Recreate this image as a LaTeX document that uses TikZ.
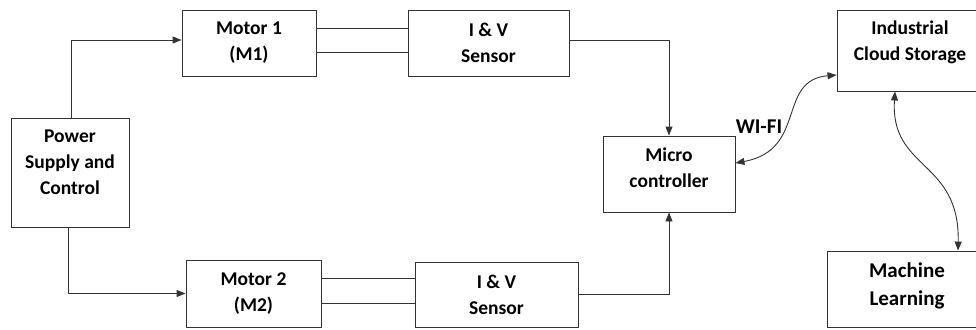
\documentclass[tikz,border=0pt]{standalone}
\usepackage{fontspec}
\setmainfont{Carlito}
\usepackage{tikz}
\usetikzlibrary{arrows.meta,positioning}

\begin{document}
\begin{tikzpicture}[
			x=1pt,y=-1pt,
			box/.style={
				draw=black!80,
				line width=0.9pt,
				minimum width=#1,
				align=center,
				font=\bfseries\fontsize{19.5}{26}\selectfont
			},
			box/.default=134pt,
			arrow/.style={-{Triangle[length=9pt,width=7pt]},line width=0.9pt,draw=black!80},
			link/.style={line width=0.9pt,draw=black!80},
			biarrow/.style={{Triangle[length=9pt,width=7pt]}-{Triangle[length=9pt,width=7pt]},line width=0.9pt,draw=black!80}
			]
			\useasboundingbox (0,0) rectangle (976,329);
			
			\node[box=118pt,minimum height=109pt,text depth=20pt] (power) at (70,172.5)
			{Power\\ Supply and\\ Control};
			
			\node[box=134pt,minimum height=66pt] (m1) at (249,43)
			{Motor 1\\ (M1)};
			
			\node[box=161pt,minimum height=66pt] (s1) at (488.5,43)
			{I \& V\\ Sensor};
			
			\node[box=135pt,minimum height=67pt] (m2) at (253.5,293.5)
			{Motor 2\\ (M2)};
			
			\node[box=163pt,minimum height=65pt] (s2) at (496.5,294.5)
			{I \& V\\ Sensor};
			
			\node[box=132pt,minimum height=76pt,text depth=12pt] (micro) at (669,174)
			{Micro\\ controller};
			
			\node[box=146pt,minimum height=81pt,text depth=19pt] (cloud) at (910,50.5)
			{Industrial\\ Cloud Storage};
			
			\node[box=160pt,minimum height=76pt,text depth=10pt,font=\bfseries\fontsize{21}{28}\selectfont] (ml) at (907,289)
			{Machine\\ Learning};
			
			\draw[arrow] ([xshift=1pt]power.north) |- ([yshift=3pt]m1.west);
			\draw[arrow] ([xshift=-2pt]power.south) |- (m2.west);
			
			\draw[link] ([yshift=15pt]m1.east) -- ([yshift=15pt]s1.west);
			\draw[link] ([yshift=-9pt]m1.east) -- ([yshift=-9pt]s1.west);
			\draw[link] ([yshift=15.5pt]m2.east) -- ([yshift=15.5pt]m2.east -| s2.west);
			\draw[link] ([yshift=-9.5pt]m2.east) -- ([yshift=-9.5pt]m2.east -| s2.west);
			
			\draw[arrow] ([yshift=3pt]s1.east) -| (micro.north);
			\draw[arrow] (s2.east) -| (micro.south);
			
			\draw[biarrow] ([yshift=11pt]micro.east) .. controls +(72,-13) and +(-60,5) .. ([yshift=-24.5pt]cloud.west);
			\node[font=\bfseries\fontsize{21}{26}\selectfont] (wifi) at (759,127) {WI-FI};
			
			\draw[biarrow] ([xshift=-15pt]cloud.south) .. controls +(-5,79) and +(2,-91) .. ([xshift=51pt]ml.north);
			
		\end{tikzpicture}
\end{document}
